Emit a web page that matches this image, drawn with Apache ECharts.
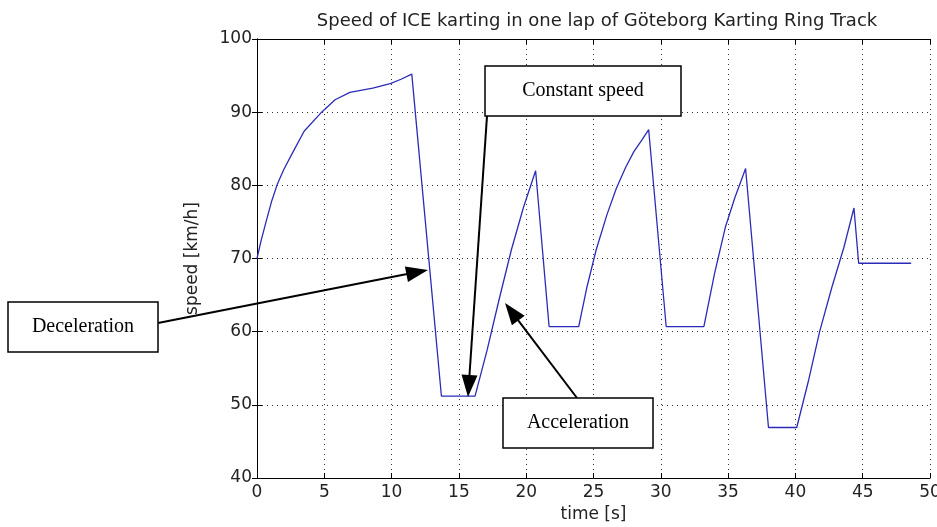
<!DOCTYPE html>
<html>
<head>
<meta charset="utf-8">
<script src="https://cdn.jsdelivr.net/npm/echarts@6/dist/echarts.min.js"></script>
<style>
html,body{margin:0;padding:0;background:#fff;}
#c{width:937px;height:527px;}
</style>
</head>
<body>
<div id="c"></div>
<script>
// ---- data ----
var titleText = 'Speed of ICE karting in one lap of Göteborg Karting Ring Track';
var xName = 'time [s]';
var yName = 'speed [km/h]';
var timeS = [0,0.3,0.7,1.1,1.5,2.0,2.6,3.5,4.8,5.8,6.9,8.6,9.9,10.7,11.5,13.7,16.2,17.1,18.0,18.9,19.8,20.7,21.7,23.9,24.5,25.2,26.0,26.7,27.4,28.0,28.6,29.1,30.4,33.2,34.0,34.8,35.5,36.3,38.0,40.1,41.0,41.8,42.7,43.6,44.35,44.7,48.6];
var speedKmh = [70,72.4,75.2,77.9,80.1,82.2,84.3,87.4,90,91.7,92.7,93.3,93.9,94.5,95.2,51.2,51.2,57.5,64.5,71.2,77,82,60.7,60.7,66,71.2,76,79.6,82.5,84.6,86.2,87.6,60.7,60.7,68,74.3,78.3,82.3,46.9,46.9,53.5,60,66,71.5,76.9,69.35,69.35];
var xTicks = {min:0, max:50, interval:5};
var yTicks = {min:40, max:100, interval:10};
var annotations = [
  {text:'Deceleration', box:[8,302,150,50], from:[158,323], to:[428,270]},
  {text:'Constant speed', box:[485,66,196,50], from:[487,116], to:[468,397]},
  {text:'Acceleration', box:[503,398,150,50], from:[577,398], to:[505,303]}
];

var pts = timeS.map(function(t,i){return [t, speedKmh[i]];});

function arrowEls(a){
  var x1=a.from[0], y1=a.from[1], x2=a.to[0], y2=a.to[1];
  var dx=x2-x1, dy=y2-y1, L=Math.sqrt(dx*dx+dy*dy);
  var ux=dx/L, uy=dy/L, hl=22, hw=8;
  var bx=x2-ux*hl, by=y2-uy*hl;
  return [
    {type:'line', z:100, shape:{x1:x1,y1:y1,x2:bx+ux*2,y2:by+uy*2}, style:{stroke:'#000', lineWidth:2}},
    {type:'polygon', z:100, shape:{points:[[x2,y2],[bx-uy*hw,by+ux*hw],[bx+uy*hw,by-ux*hw]]}, style:{fill:'#000'}}
  ];
}
var gfx = [];
annotations.forEach(function(a){
  gfx = gfx.concat(arrowEls(a));
  gfx.push({type:'rect', z:101, shape:{x:a.box[0],y:a.box[1],width:a.box[2],height:a.box[3]},
            style:{fill:'#fff', stroke:'#000', lineWidth:1.5}});
  gfx.push({type:'text', z:102, style:{text:a.text, x:a.box[0]+a.box[2]/2, y:a.box[1]+a.box[3]/2,
            textAlign:'center', textVerticalAlign:'middle', align:'center', verticalAlign:'middle',
            font:'20px "Liberation Serif", "Times New Roman", serif', fill:'#000'}});
});

var sans = '"DejaVu Sans", Arial, sans-serif';
var lbl = {color:'#222', fontSize:17, fontFamily:sans};
var grid = {left:257, top:39, width:673, height:439, containLabel:false, outerBoundsMode:'none'};
var chart = echarts.init(document.getElementById('c'));
chart.setOption({
  animation:false,
  backgroundColor:'#fff',
  title:{text:titleText, left:592, top:7, textAlign:'center',
    textStyle:{fontSize:18, fontWeight:'normal', color:'#222', fontFamily:sans}},
  grid:grid,
  xAxis:[
    {type:'value', min:xTicks.min, max:xTicks.max, interval:xTicks.interval, position:'bottom',
     name:xName, nameLocation:'middle', nameGap:28, nameTextStyle:lbl,
     axisLine:{lineStyle:{color:'#000', width:1}}, axisTick:{inside:true, length:5, lineStyle:{color:'#000'}},
     axisLabel:Object.assign({margin:6}, lbl),
     splitLine:{show:true, lineStyle:{color:'#333', width:1, type:[1,4]}}},
    {type:'value', min:xTicks.min, max:xTicks.max, interval:xTicks.interval, position:'top',
     axisLine:{lineStyle:{color:'#000', width:1}}, axisTick:{inside:true, length:5, lineStyle:{color:'#000'}},
     axisLabel:{show:false}, splitLine:{show:false}}
  ],
  yAxis:[
    {type:'value', min:yTicks.min, max:yTicks.max, interval:yTicks.interval, position:'left',
     name:yName, nameLocation:'middle', nameGap:56, nameRotate:90, nameTextStyle:lbl,
     axisLine:{show:true, lineStyle:{color:'#000', width:1}}, axisTick:{show:true, inside:true, length:5, lineStyle:{color:'#000'}},
     axisLabel:Object.assign({margin:5}, lbl),
     splitLine:{show:true, lineStyle:{color:'#333', width:1, type:[1,4]}}},
    {type:'value', min:yTicks.min, max:yTicks.max, interval:yTicks.interval, position:'right',
     axisLine:{show:true, lineStyle:{color:'#000', width:1}}, axisTick:{show:true, inside:true, length:5, lineStyle:{color:'#000'}},
     axisLabel:{show:false}, splitLine:{show:false}}
  ],
  series:[{type:'line', data:pts, showSymbol:false, symbol:'none',
    lineStyle:{color:'#2b2bb8', width:1.3}, z:5}],
  graphic:gfx
});
</script>
</body>
</html>
